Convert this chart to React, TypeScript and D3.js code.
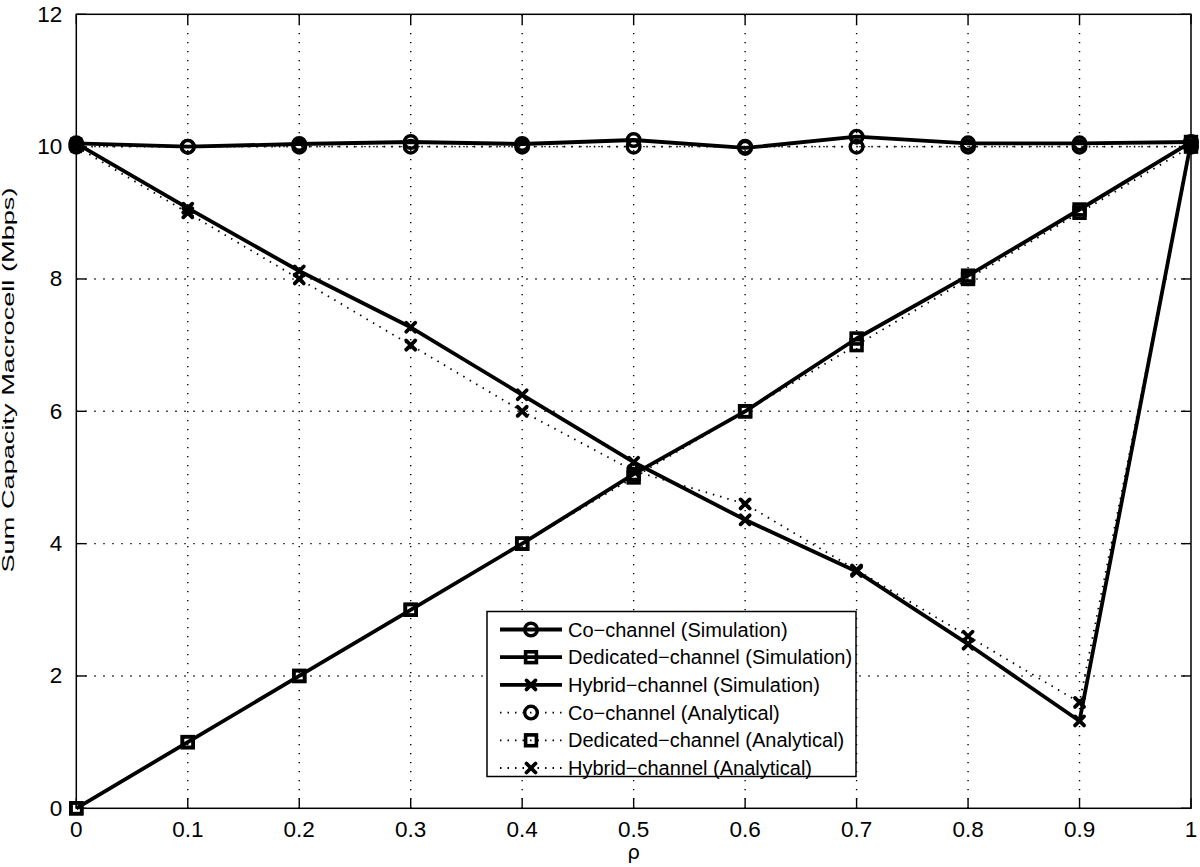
import React from "react";
import * as d3 from "d3";

const rho = [0, 0.1, 0.2, 0.3, 0.4, 0.5, 0.6, 0.7, 0.8, 0.9, 1.0];
const coSim = [10.05, 10.0, 10.04, 10.07, 10.04, 10.1, 9.98, 10.15, 10.05, 10.05, 10.07];
const dedSim = [0, 1.0, 2.0, 3.0, 4.0, 5.05, 6.0, 7.1, 8.05, 9.05, 10.07];
const hybSim = [10.05, 9.07, 8.12, 7.27, 6.25, 5.23, 4.36, 3.58, 2.48, 1.32, 10.07];
const coAna = [10, 10, 10, 10, 10, 10, 10, 10, 10, 10, 10];
const dedAna = [0, 1, 2, 3, 4, 5, 6, 7, 8, 9, 10];
const hybAna = [10, 9.0, 8.0, 7.0, 6.0, 5.1, 4.6, 3.6, 2.6, 1.6, 10.0];

const xTicks = [0, 0.1, 0.2, 0.3, 0.4, 0.5, 0.6, 0.7, 0.8, 0.9, 1];
const xTickLabels = ["0", "0.1", "0.2", "0.3", "0.4", "0.5", "0.6", "0.7", "0.8", "0.9", "1"];
const yTicks = [0, 2, 4, 6, 8, 10, 12];

const legendLabels = [
  "Co\u2212channel (Simulation)",
  "Dedicated\u2212channel (Simulation)",
  "Hybrid\u2212channel (Simulation)",
  "Co\u2212channel (Analytical)",
  "Dedicated\u2212channel (Analytical)",
  "Hybrid\u2212channel (Analytical)",
];

const W = 1200;
const H = 867;
const L = 76.3, R = 1191, T = 14.3, B = 808.3;
const FONT = "'Liberation Sans', Arial, Helvetica, sans-serif";

type MarkerKind = "circle" | "square" | "x";

function Marker({ kind, x, y }: { kind: MarkerKind; x: number; y: number }) {
  if (kind === "circle") {
    return <circle cx={x} cy={y} r={6.3} fill="none" stroke="#000" strokeWidth={3.4} />;
  }
  if (kind === "square") {
    return <rect x={x - 5.4} y={y - 5.4} width={10.8} height={10.8} fill="none" stroke="#000" strokeWidth={3.6} />;
  }
  const s = 4.5;
  return (
    <g stroke="#000" strokeWidth={3.8} strokeLinecap="round">
      <line x1={x - s} y1={y - s} x2={x + s} y2={y + s} />
      <line x1={x - s} y1={y + s} x2={x + s} y2={y - s} />
    </g>
  );
}

export default function App() {
  const x = d3.scaleLinear().domain([0, 1]).range([L, R]);
  const y = d3.scaleLinear().domain([0, 12]).range([B, T]);
  const line = d3
    .line<number>()
    .x((_, i) => x(rho[i]))
    .y((d) => y(d));

  const sims: { data: number[]; kind: MarkerKind }[] = [
    { data: coSim, kind: "circle" },
    { data: dedSim, kind: "square" },
    { data: hybSim, kind: "x" },
  ];
  const anas: { data: number[]; kind: MarkerKind }[] = [
    { data: coAna, kind: "circle" },
    { data: dedAna, kind: "square" },
    { data: hybAna, kind: "x" },
  ];

  const tickLen = 10;
  const legX = 487, legY = 611.5, legW = 369, legH = 165;
  const rowY0 = 629.5, rowStep = 27.7;

  return (
    <svg
      width={W}
      height={H}
      style={{ position: "absolute", left: 0, top: 0, background: "#fff" }}
      fontFamily={FONT}
    >
      <rect x={0} y={0} width={W} height={H} fill="#fff" />
      {/* grid */}
      <g stroke="#000" strokeWidth={1.4} strokeDasharray="1.4,7.6">
        {xTicks.slice(1, -1).map((t) => (
          <line key={"gx" + t} x1={x(t)} x2={x(t)} y1={B} y2={T} />
        ))}
        {yTicks.slice(1, -1).map((t) => (
          <line key={"gy" + t} x1={L} x2={R} y1={y(t)} y2={y(t)} />
        ))}
      </g>
      {/* ticks */}
      <g stroke="#000" strokeWidth={1.4}>
        {xTicks.map((t) => (
          <g key={"tx" + t}>
            <line x1={x(t)} x2={x(t)} y1={B} y2={B - tickLen} />
            <line x1={x(t)} x2={x(t)} y1={T} y2={T + tickLen} />
          </g>
        ))}
        {yTicks.map((t) => (
          <g key={"ty" + t}>
            <line x1={L} x2={L + tickLen} y1={y(t)} y2={y(t)} />
            <line x1={R} x2={R - tickLen} y1={y(t)} y2={y(t)} />
          </g>
        ))}
      </g>
      {/* frame */}
      <rect x={L} y={T} width={R - L} height={B - T} fill="none" stroke="#000" strokeWidth={1.5} />
      {/* tick labels */}
      <g fontSize={22.5} fill="#000">
        {xTicks.map((t, i) => (
          <text key={"lx" + t} x={x(t)} y={B + 28.5} textAnchor="middle">
            {xTickLabels[i]}
          </text>
        ))}
        {yTicks.map((t) => (
          <text key={"ly" + t} x={L - 14} y={y(t) + 7.5} textAnchor="end">
            {t}
          </text>
        ))}
      </g>
      {/* axis labels */}
      <text x={(L + R) / 2} y={859} textAnchor="middle" fontSize={20} fontFamily="'DejaVu Sans', sans-serif">
        ρ
      </text>
      <text
        transform={`translate(${13.5},${380}) rotate(-90)`}
        textAnchor="middle"
        fontSize={17}
        textLength={385}
        lengthAdjust="spacingAndGlyphs"
      >
        Sum Capacity Macrocell (Mbps)
      </text>
      {/* simulation lines */}
      {sims.map((s, k) => (
        <g key={"s" + k}>
          <path d={line(s.data) || ""} fill="none" stroke="#000" strokeWidth={3.8} strokeLinejoin="round" />
          {s.data.map((v, i) => (
            <Marker key={i} kind={s.kind} x={x(rho[i])} y={y(v)} />
          ))}
        </g>
      ))}
      {/* analytical lines */}
      {anas.map((s, k) => (
        <g key={"a" + k}>
          <path d={line(s.data) || ""} fill="none" stroke="#000" strokeWidth={1.8} strokeDasharray="1.5,6" />
          {s.data.map((v, i) => (
            <Marker key={i} kind={s.kind} x={x(rho[i])} y={y(v)} />
          ))}
        </g>
      ))}
      {/* legend */}
      <rect x={legX} y={legY} width={legW} height={legH} fill="#fff" stroke="#000" strokeWidth={1.5} />
      {legendLabels.map((lab, i) => {
        const ry = rowY0 + i * rowStep;
        const sim = i < 3;
        const kind: MarkerKind = (["circle", "square", "x"] as MarkerKind[])[i % 3];
        return (
          <g key={"lg" + i}>
            <line
              x1={500}
              x2={562}
              y1={ry}
              y2={ry}
              stroke="#000"
              strokeWidth={sim ? 3.8 : 1.8}
              strokeDasharray={sim ? undefined : "1.5,6"}
            />
            <Marker kind={kind} x={531} y={ry} />
            <text x={568} y={ry + 7} fontSize={20} fill="#000">
              {lab}
            </text>
          </g>
        );
      })}
    </svg>
  );
}
